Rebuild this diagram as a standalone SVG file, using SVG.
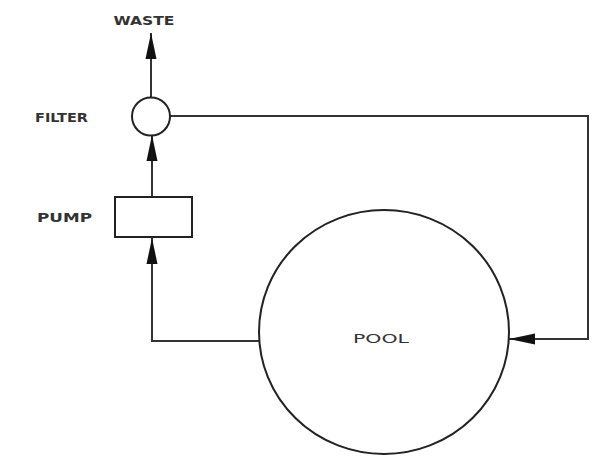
<svg xmlns="http://www.w3.org/2000/svg" width="595" height="458" viewBox="0 0 595 458">
<style>
.shape{fill:#fff;stroke:#222;stroke-width:2}
.conn{fill:none;stroke:#333;stroke-width:2}
.lbl{font-family:"DejaVu Sans","Liberation Sans",sans-serif;font-size:13px;font-weight:bold;fill:#333;text-anchor:middle}
</style>
<defs>
<marker id="arr" markerUnits="userSpaceOnUse" markerWidth="28" markerHeight="12" refX="26" refY="6" orient="auto">
<path d="M0,0.5 L26,6 L0,11.5 z" fill="#111"/>
</marker>
</defs>
<rect width="595" height="458" fill="#fff"/>
<g id="connectors">
<line class="conn" x1="151" y1="97" x2="151" y2="33" marker-end="url(#arr)"/>
<line class="conn" x1="152" y1="197" x2="152" y2="135" marker-end="url(#arr)"/>
<polyline class="conn" points="259,341 152,341 152,238" marker-end="url(#arr)"/>
<polyline class="conn" points="170,116 588,116 588,339 509,339" marker-end="url(#arr)"/>
</g>
<g id="waste">
<text class="lbl" x="144" y="25" textLength="61" lengthAdjust="spacingAndGlyphs">WASTE</text>
</g>
<g id="filter">
<circle class="shape" cx="151" cy="116.5" r="19"/>
<text class="lbl" x="61.5" y="122" textLength="53" lengthAdjust="spacingAndGlyphs">FILTER</text>
</g>
<g id="pump">
<rect class="shape" x="115" y="197" width="77" height="40"/>
<text class="lbl" x="64.5" y="222" textLength="55" lengthAdjust="spacingAndGlyphs">PUMP</text>
</g>
<g id="pool">
<ellipse class="shape" cx="384" cy="332" rx="125" ry="122"/>
<text class="lbl" x="381" y="343" textLength="56" lengthAdjust="spacingAndGlyphs" style="font-weight:normal">POOL</text>
</g>
</svg>
